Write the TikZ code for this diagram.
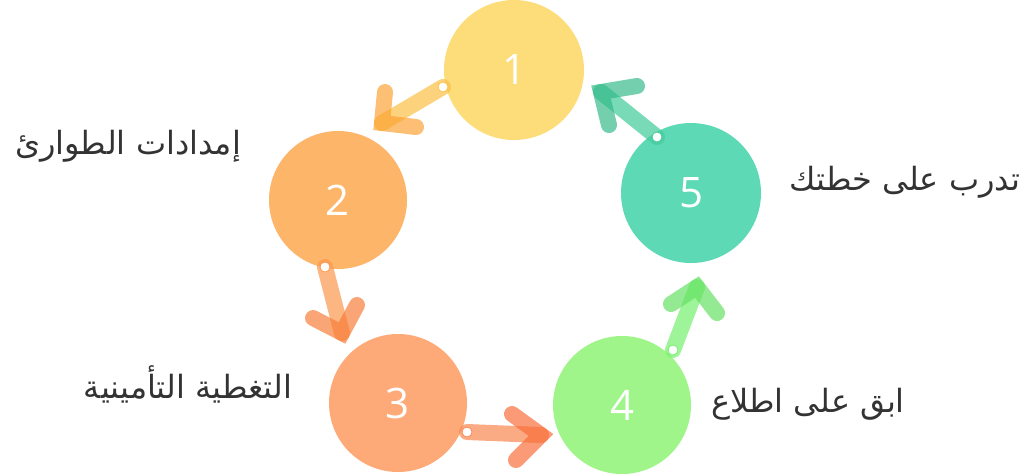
\documentclass[tikz,border=0pt]{standalone}
\usepackage{fontspec}
\setmainfont{Open Sans}
\newfontfamily\arabicfont[Script=Arabic]{DejaVu Sans}
\TeXXeTstate=1
\definecolor{cA}{HTML}{FDDC7A}
\definecolor{cB}{HTML}{FDB56A}
\definecolor{cC}{HTML}{FDAA78}
\definecolor{cD}{HTML}{A0F58A}
\definecolor{cE}{HTML}{5ED9B6}
\definecolor{aA}{HTML}{FBC24A}
\definecolor{aAh}{HTML}{FBA030}
\definecolor{aB}{HTML}{F99A50}
\definecolor{aBh}{HTML}{F87A35}
\definecolor{aC}{HTML}{F98A55}
\definecolor{aCh}{HTML}{F86A35}
\definecolor{aD}{HTML}{78F070}
\definecolor{aDh}{HTML}{60E060}
\definecolor{aE}{HTML}{45CC9C}
\definecolor{aEh}{HTML}{30B887}
\definecolor{txt}{HTML}{333333}
\tikzset{
  stepcirc/.style={circle, fill=#1, draw=none, text=white, font=\fontsize{42}{42}\selectfont},
  shaft/.style={line width=16pt, line cap=round, draw=#1, opacity=0.72},
  headarm/.style={line width=16pt, line cap=round, draw=#1, opacity=0.68},
  startdot/.style={circle, fill=white, draw=#1, line width=0.8pt, minimum size=10pt, inner sep=0pt},
  lbl/.style={text=txt, font=\arabicfont\fontsize{32}{36}\selectfont}
}
\begin{document}
\begin{tikzpicture}[x=1pt,y=-1pt]
\useasboundingbox (0,0) rectangle (1032,475);
% circles
\node[stepcirc=cA, minimum size=140pt] (n1) at (514,70) {1};
\node[stepcirc=cB, minimum size=138pt] (n2) at (338,200) {2};
\node[stepcirc=cC, minimum size=138pt] (n3) at (398,403) {3};
\node[stepcirc=cD, minimum size=138pt] (n4) at (622,405) {4};
\node[stepcirc=cE, minimum size=140pt] (n5) at (691,193) {5};
% coordinates for arrows
\coordinate (s12) at (443,87);   \coordinate (t12) at (382,123);
\coordinate (a12) at (385,92);   \coordinate (b12) at (416,127);
\coordinate (s23) at (325,267);  \coordinate (t23) at (342,333);
\coordinate (a23) at (313,318);  \coordinate (b23) at (357,305);
\coordinate (s34) at (467,432);  \coordinate (t34) at (541,435);
\coordinate (a34) at (512,414);  \coordinate (b34) at (516,460);
\coordinate (s45) at (673,350);  \coordinate (t45) at (697,287);
\coordinate (a45) at (671,304);  \coordinate (b45) at (717,313);
\coordinate (s51) at (657,137);  \coordinate (t51) at (601,92);
\coordinate (a51) at (637,86);   \coordinate (b51) at (609,125);
% arrows
\draw[shaft=aA] (s12) -- (t12);
\draw[headarm=aAh] (a12) -- (t12) -- (b12);
\node[startdot=aA] (d12) at (s12) {};
\draw[shaft=aB] (s23) -- (t23);
\draw[headarm=aBh] (a23) -- (t23) -- (b23);
\node[startdot=aB] (d23) at (s23) {};
\draw[shaft=aC] (s34) -- (t34);
\draw[headarm=aCh] (a34) -- (t34) -- (b34);
\node[startdot=aC] (d34) at (s34) {};
\draw[shaft=aD] (s45) -- (t45);
\draw[headarm=aDh] (a45) -- (t45) -- (b45);
\node[startdot=aD] (d45) at (s45) {};
\draw[shaft=aE] (s51) -- (t51);
\draw[headarm=aEh] (a51) -- (t51) -- (b51);
\node[startdot=aE] (d51) at (s51) {};
% labels
\node[lbl] (l2) at (128,146) {\beginR إمدادات الطوارئ\endR};
\node[lbl] (l3) at (188,384) {\beginR التغطية التأمينية\endR};
\node[lbl] (l4) at (808,404) {\beginR ابق على اطلاع\endR};
\node[lbl] (l5) at (905,182) {\beginR تدرب على خطتك\endR};
\end{tikzpicture}
\end{document}
